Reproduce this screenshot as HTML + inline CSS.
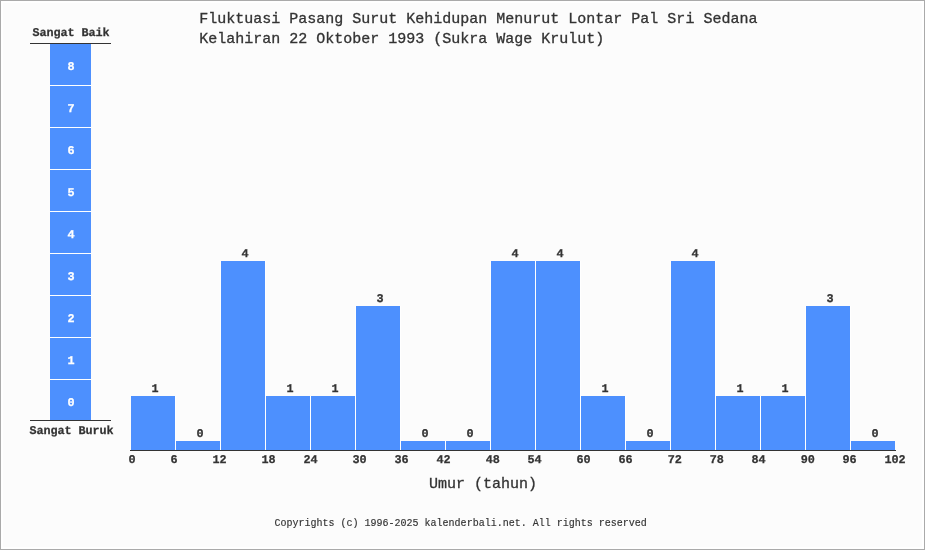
<!DOCTYPE html>
<html lang="id"><head><meta charset="utf-8"><title>Fluktuasi Pasang Surut Kehidupan</title>
<style>
html,body{margin:0;padding:0;background:#fcfcfc;}
body{width:925px;height:550px;overflow:hidden;position:relative;}
svg{position:absolute;left:0;top:0;display:block;}
text{font-family:"Liberation Mono","DejaVu Sans Mono",monospace;fill:#333333;}
.t{font-size:15px;stroke:#333;stroke-width:0.3px;}
.b{font-size:11.8px;font-weight:bold;letter-spacing:-0.08px;text-rendering:geometricPrecision;stroke:#333;stroke-width:0.25px;}
.w{font-size:11.8px;font-weight:bold;fill:#ffffff;text-rendering:geometricPrecision;stroke:#fff;stroke-width:0.25px;}
.c{font-size:10px;stroke:#333;stroke-width:0.15px;}
</style></head><body>
<svg width="925" height="550" viewBox="0 0 925 550">

<rect x="0" y="0" width="925" height="550" fill="#fcfcfc"/>
<rect x="0.5" y="0.5" width="924" height="549" fill="none" stroke="#aaaaaa" stroke-width="1"/>
<rect x="2" y="2" width="921" height="546" fill="none" stroke="#ffffff" stroke-width="2"/>
<text class="t" x="199.3" y="23" xml:space="preserve">Fluktuasi Pasang Surut Kehidupan Menurut Lontar Pal Sri Sedana</text>
<text class="t" x="199.3" y="43" xml:space="preserve">Kelahiran 22 Oktober 1993 (Sukra Wage Krulut)</text>
<text class="b" x="71" y="36" text-anchor="middle" xml:space="preserve">Sangat Baik</text>
<rect x="30" y="43" width="81" height="1" fill="#333"/>
<rect x="50" y="44" width="41" height="41" fill="#4d90fe"/>
<rect x="50" y="85" width="41" height="1" fill="#ffffff"/>
<text class="w" x="71" y="70" text-anchor="middle">8</text>
<rect x="50" y="86" width="41" height="41" fill="#4d90fe"/>
<rect x="50" y="127" width="41" height="1" fill="#ffffff"/>
<text class="w" x="71" y="112" text-anchor="middle">7</text>
<rect x="50" y="128" width="41" height="41" fill="#4d90fe"/>
<rect x="50" y="169" width="41" height="1" fill="#ffffff"/>
<text class="w" x="71" y="154" text-anchor="middle">6</text>
<rect x="50" y="170" width="41" height="41" fill="#4d90fe"/>
<rect x="50" y="211" width="41" height="1" fill="#ffffff"/>
<text class="w" x="71" y="196" text-anchor="middle">5</text>
<rect x="50" y="212" width="41" height="41" fill="#4d90fe"/>
<rect x="50" y="253" width="41" height="1" fill="#ffffff"/>
<text class="w" x="71" y="238" text-anchor="middle">4</text>
<rect x="50" y="254" width="41" height="41" fill="#4d90fe"/>
<rect x="50" y="295" width="41" height="1" fill="#ffffff"/>
<text class="w" x="71" y="280" text-anchor="middle">3</text>
<rect x="50" y="296" width="41" height="41" fill="#4d90fe"/>
<rect x="50" y="337" width="41" height="1" fill="#ffffff"/>
<text class="w" x="71" y="322" text-anchor="middle">2</text>
<rect x="50" y="338" width="41" height="41" fill="#4d90fe"/>
<rect x="50" y="379" width="41" height="1" fill="#ffffff"/>
<text class="w" x="71" y="364" text-anchor="middle">1</text>
<rect x="50" y="380" width="41" height="40" fill="#4d90fe"/>
<text class="w" x="71" y="406" text-anchor="middle">0</text>
<rect x="30" y="420" width="81" height="1" fill="#333"/>
<text class="b" x="71.5" y="434" text-anchor="middle" xml:space="preserve">Sangat Buruk</text>
<rect x="131" y="396" width="44" height="54" fill="#4d90fe"/>
<rect x="175" y="396" width="1" height="54" fill="#ffffff"/>
<text class="b" x="154.9" y="392" text-anchor="middle">1</text>
<rect x="176" y="441" width="44" height="9" fill="#4d90fe"/>
<rect x="220" y="261" width="1" height="189" fill="#ffffff"/>
<text class="b" x="199.9" y="437" text-anchor="middle">0</text>
<rect x="221" y="261" width="44" height="189" fill="#4d90fe"/>
<rect x="265" y="261" width="1" height="189" fill="#ffffff"/>
<text class="b" x="244.9" y="257" text-anchor="middle">4</text>
<rect x="266" y="396" width="44" height="54" fill="#4d90fe"/>
<rect x="310" y="396" width="1" height="54" fill="#ffffff"/>
<text class="b" x="289.9" y="392" text-anchor="middle">1</text>
<rect x="311" y="396" width="44" height="54" fill="#4d90fe"/>
<rect x="355" y="306" width="1" height="144" fill="#ffffff"/>
<text class="b" x="334.9" y="392" text-anchor="middle">1</text>
<rect x="356" y="306" width="44" height="144" fill="#4d90fe"/>
<rect x="400" y="306" width="1" height="144" fill="#ffffff"/>
<text class="b" x="379.9" y="302" text-anchor="middle">3</text>
<rect x="401" y="441" width="44" height="9" fill="#4d90fe"/>
<rect x="445" y="441" width="1" height="9" fill="#ffffff"/>
<text class="b" x="424.9" y="437" text-anchor="middle">0</text>
<rect x="446" y="441" width="44" height="9" fill="#4d90fe"/>
<rect x="490" y="261" width="1" height="189" fill="#ffffff"/>
<text class="b" x="469.9" y="437" text-anchor="middle">0</text>
<rect x="491" y="261" width="44" height="189" fill="#4d90fe"/>
<rect x="535" y="261" width="1" height="189" fill="#ffffff"/>
<text class="b" x="514.9" y="257" text-anchor="middle">4</text>
<rect x="536" y="261" width="44" height="189" fill="#4d90fe"/>
<rect x="580" y="261" width="1" height="189" fill="#ffffff"/>
<text class="b" x="559.9" y="257" text-anchor="middle">4</text>
<rect x="581" y="396" width="44" height="54" fill="#4d90fe"/>
<rect x="625" y="396" width="1" height="54" fill="#ffffff"/>
<text class="b" x="604.9" y="392" text-anchor="middle">1</text>
<rect x="626" y="441" width="44" height="9" fill="#4d90fe"/>
<rect x="670" y="261" width="1" height="189" fill="#ffffff"/>
<text class="b" x="649.9" y="437" text-anchor="middle">0</text>
<rect x="671" y="261" width="44" height="189" fill="#4d90fe"/>
<rect x="715" y="261" width="1" height="189" fill="#ffffff"/>
<text class="b" x="694.9" y="257" text-anchor="middle">4</text>
<rect x="716" y="396" width="44" height="54" fill="#4d90fe"/>
<rect x="760" y="396" width="1" height="54" fill="#ffffff"/>
<text class="b" x="739.9" y="392" text-anchor="middle">1</text>
<rect x="761" y="396" width="44" height="54" fill="#4d90fe"/>
<rect x="805" y="306" width="1" height="144" fill="#ffffff"/>
<text class="b" x="784.9" y="392" text-anchor="middle">1</text>
<rect x="806" y="306" width="44" height="144" fill="#4d90fe"/>
<rect x="850" y="306" width="1" height="144" fill="#ffffff"/>
<text class="b" x="829.9" y="302" text-anchor="middle">3</text>
<rect x="851" y="441" width="44" height="9" fill="#4d90fe"/>
<text class="b" x="874.9" y="437" text-anchor="middle">0</text>
<rect x="130" y="450" width="766" height="1" fill="#333"/>
<text class="b" x="132.0" y="463" text-anchor="middle">0</text>
<text class="b" x="174.1" y="463" text-anchor="middle">6</text>
<text class="b" x="219.6" y="463" text-anchor="middle">12</text>
<text class="b" x="268.4" y="463" text-anchor="middle">18</text>
<text class="b" x="310.6" y="463" text-anchor="middle">24</text>
<text class="b" x="359.5" y="463" text-anchor="middle">30</text>
<text class="b" x="401.6" y="463" text-anchor="middle">36</text>
<text class="b" x="443.6" y="463" text-anchor="middle">42</text>
<text class="b" x="492.7" y="463" text-anchor="middle">48</text>
<text class="b" x="534.6" y="463" text-anchor="middle">54</text>
<text class="b" x="583.5" y="463" text-anchor="middle">60</text>
<text class="b" x="625.5" y="463" text-anchor="middle">66</text>
<text class="b" x="674.7" y="463" text-anchor="middle">72</text>
<text class="b" x="716.8" y="463" text-anchor="middle">78</text>
<text class="b" x="758.6" y="463" text-anchor="middle">84</text>
<text class="b" x="807.7" y="463" text-anchor="middle">90</text>
<text class="b" x="849.5" y="463" text-anchor="middle">96</text>
<text class="b" x="895.1" y="463" text-anchor="middle">102</text>
<text class="t" x="483" y="488" text-anchor="middle" xml:space="preserve">Umur (tahun)</text>
<text class="c" x="274.6" y="526" xml:space="preserve">Copyrights (c) 1996-2025 kalenderbali.net. All rights reserved</text>
</svg></body></html>
